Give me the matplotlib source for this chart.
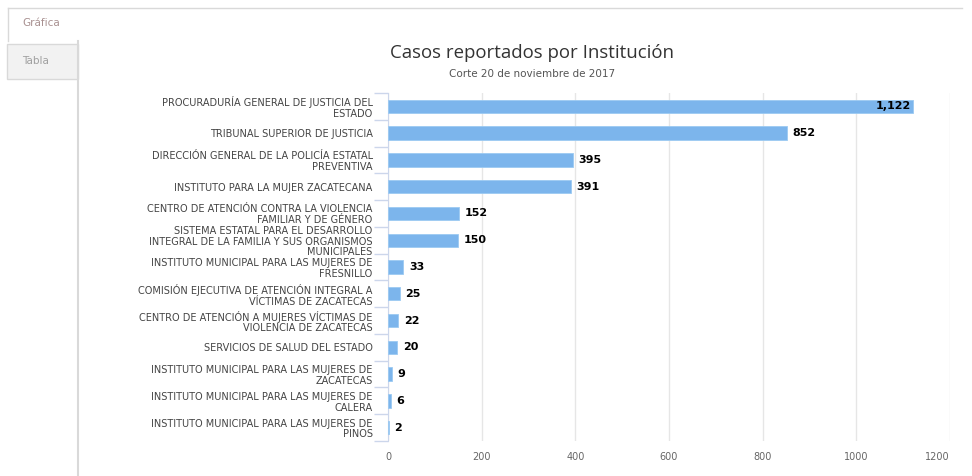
import matplotlib.pyplot as plt
from matplotlib.patches import Rectangle
from matplotlib.lines import Line2D

instituciones = [
    "PROCURADURÍA GENERAL DE JUSTICIA DEL\nESTADO",
    "TRIBUNAL SUPERIOR DE JUSTICIA",
    "DIRECCIÓN GENERAL DE LA POLICÍA ESTATAL\nPREVENTIVA",
    "INSTITUTO PARA LA MUJER ZACATECANA",
    "CENTRO DE ATENCIÓN CONTRA LA VIOLENCIA\nFAMILIAR Y DE GÉNERO",
    "SISTEMA ESTATAL PARA EL DESARROLLO\nINTEGRAL DE LA FAMILIA Y SUS ORGANISMOS\nMUNICIPALES",
    "INSTITUTO MUNICIPAL PARA LAS MUJERES DE\nFRESNILLO",
    "COMISIÓN EJECUTIVA DE ATENCIÓN INTEGRAL A\nVÍCTIMAS DE ZACATECAS",
    "CENTRO DE ATENCIÓN A MUJERES VÍCTIMAS DE\nVIOLENCIA DE ZACATECAS",
    "SERVICIOS DE SALUD DEL ESTADO",
    "INSTITUTO MUNICIPAL PARA LAS MUJERES DE\nZACATECAS",
    "INSTITUTO MUNICIPAL PARA LAS MUJERES DE\nCALERA",
    "INSTITUTO MUNICIPAL PARA LAS MUJERES DE\nPINOS",
]
casos = [1122, 852, 395, 391, 152, 150, 33, 25, 22, 20, 9, 6, 2]
x_ticks = [0, 200, 400, 600, 800, 1000, 1200]

W, H = 972, 476
fig = plt.figure(figsize=(W / 100, H / 100), dpi=100)

# tab frame around the chart (page chrome)
frame_col = "#d9d9d9"
fig.add_artist(Line2D([8 / W, 962 / W], [1 - 8 / H, 1 - 8 / H], color=frame_col, lw=1))
fig.add_artist(Line2D([8 / W, 8 / W], [1 - 8 / H, 1 - 41 / H], color=frame_col, lw=1))
fig.add_artist(Line2D([78 / W, 78 / W], [1 - 41 / H, 0], color=frame_col, lw=1.5))
fig.add_artist(Rectangle((7 / W, 1 - 79 / H), 71 / W, 35 / H, facecolor="#f2f2f2",
                         edgecolor=frame_col, lw=1))
fig.text(22 / W, 1 - 23 / H, "Gráfica", fontsize=7.5, color="#a89090", va="center")
fig.text(22 / W, 1 - 61 / H, "Tabla", fontsize=7.5, color="#a0a0a0", va="center")

ax = fig.add_axes([388 / W, 1 - 441 / H, 562 / W, 348 / H])
y = list(range(len(casos)))
ax.barh(y, casos, height=0.5, color="#7cb5ec", edgecolor="#9ccaf2", lw=0.6, zorder=3)
ax.set_ylim(len(casos) - 0.5, -0.5)
ax.set_xlim(0, 1200)

ax.set_xticks(x_ticks)
ax.set_xticklabels([str(v) for v in x_ticks], fontsize=7, color="#666666")
ax.tick_params(axis="x", length=0, pad=8)
ax.get_xticklabels()[-1].set_ha("right")
ax.grid(axis="x", color="#e6e6e6", lw=1, zorder=0)

# category labels and boundary ticks
ax.set_yticks(y)
ax.set_yticklabels(instituciones, fontsize=7, color="#444444", linespacing=1.1)
ax.tick_params(axis="y", length=0, pad=11)
ax.set_yticks([i - 0.5 for i in range(len(casos) + 1)], minor=True)
ax.tick_params(axis="y", which="minor", length=10, color="#ccd6eb", width=1)

for s in ["top", "right", "bottom"]:
    ax.spines[s].set_visible(False)
ax.spines["left"].set_color("#ccd6eb")

for yi, v in zip(y, casos):
    txt = f"{v:,}"
    if v > 1000:
        ax.text(v - 6, yi, txt, ha="right", va="center", fontsize=8, fontweight="heavy",
                color="black", zorder=4)
    else:
        ax.text(v + 12, yi, txt, ha="left", va="center", fontsize=8, fontweight="heavy",
                color="black", zorder=4)

fig.text(532 / W, 1 - 53 / H, "Casos reportados por Institución", ha="center", va="center",
         fontsize=13.4, color="#333333", family="Open Sans")
fig.text(532 / W, 1 - 74 / H, "Corte 20 de noviembre de 2017", ha="center", va="center",
         fontsize=7.5, color="#555555")

fig.savefig("out.png", dpi=100)
